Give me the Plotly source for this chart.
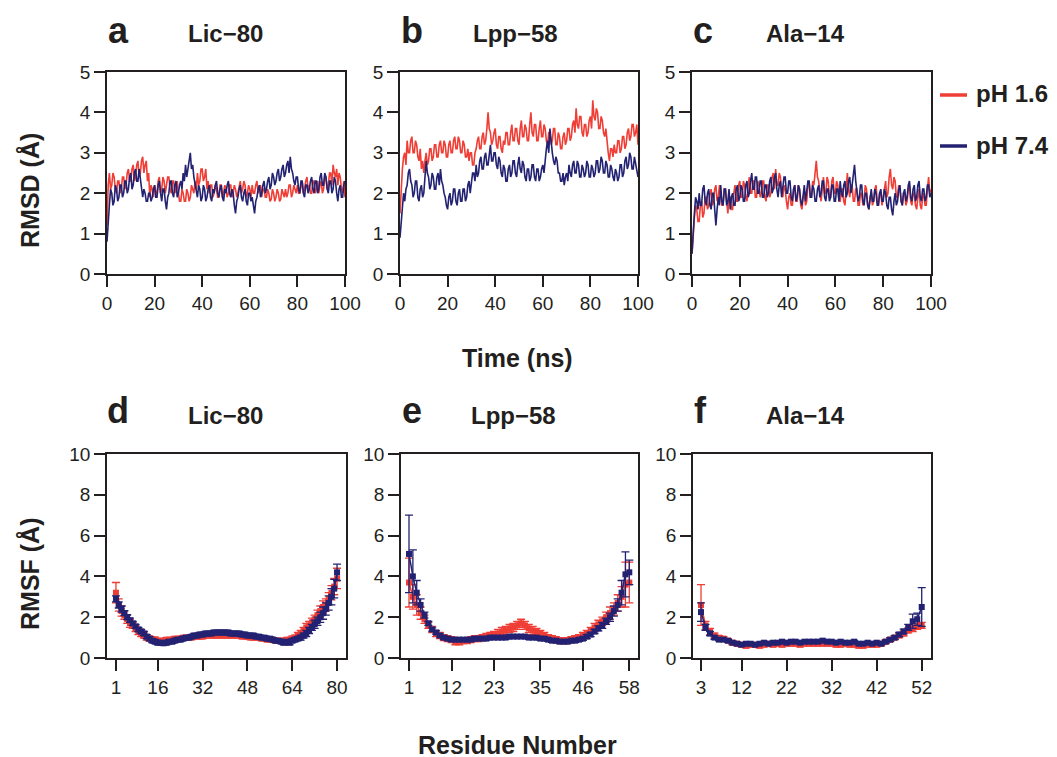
import plotly.graph_objects as go

# ---------------- DATA ----------------
time_ns = [i / 2 for i in range(201)]

rmsd_a_ph16 = [1.2,2.2, 2.5,2.1, 2.2,2.5, 2.4,2.1, 2.0,2.3, 2.3,2.0, 2.1,2.4, 2.4,2.1, 2.2,2.5, 2.6,2.3,
               2.3,2.6, 2.7,2.3, 2.4,2.7, 2.8,2.4, 2.5,2.8, 2.9,2.5, 2.7,2.8, 2.3,2.5, 1.9,2.2, 2.1,1.9,
               2.2,2.0, 2.0,2.3, 2.4,2.0, 2.1,2.4, 2.3,2.0, 2.2,2.4, 2.4,2.1, 2.0,2.3, 2.3,2.0, 2.1,2.3,
               2.0,1.8, 1.8,2.1, 2.0,1.8, 1.8,2.1, 2.0,1.8, 1.9,2.2, 2.1,2.0, 2.3,2.1, 2.5,2.2, 2.3,2.6,
               2.6,2.3, 2.4,2.6, 2.1,2.3, 2.0,2.2, 2.2,1.9, 2.0,2.2, 2.1,1.9, 1.9,2.2, 2.2,1.9, 2.0,2.2,
               2.1,1.9, 2.0,2.2, 2.2,1.9, 2.0,2.2, 2.1,1.9, 2.0,2.2, 2.3,2.0, 2.1,2.3, 2.2,1.9, 2.0,2.2,
               2.1,1.9, 2.2,2.0, 2.0,2.2, 2.3,2.0, 2.1,2.2, 1.9,2.1, 2.1,1.9, 1.9,2.1, 2.0,1.8, 1.85,2.1,
               2.0,1.8, 1.9,2.1, 2.0,1.8, 1.85,2.1, 2.0,1.9, 2.1,1.9, 2.0,2.2, 2.2,1.9, 2.0,2.2, 2.1,2.0,
               2.2,2.0, 2.0,2.2, 2.3,2.0, 2.1,2.3, 2.4,2.1, 2.2,2.0, 2.0,2.3, 2.3,2.0, 2.1,2.3, 2.0,2.2,
               2.3,2.0, 2.1,2.4, 2.4,2.1, 2.2,2.5, 2.5,2.2, 2.7,2.5, 2.4,2.6, 2.2,2.5, 2.4,2.1, 2.0,2.3,
               1.9]
rmsd_a_ph74 = [0.8,1.4, 1.7,2.1, 2.0,1.7, 1.8,2.2, 2.1,1.8, 1.9,2.2, 2.2,1.9, 2.0,2.3, 2.3,2.0, 2.1,2.4,
               2.5,2.1, 2.2,2.5, 2.6,2.3, 2.3,2.6, 2.4,2.1, 1.9,2.1, 2.0,1.8, 1.8,2.0, 2.0,1.8, 1.9,2.1,
               2.2,1.9, 1.9,2.2, 2.3,2.0, 1.8,2.1, 2.1,1.8, 1.6,1.9, 2.0,2.3, 2.3,2.0, 1.9,2.2, 2.3,1.9,
               2.0,2.2, 2.3,2.1, 2.5,2.3, 2.7,2.4, 2.6,2.8, 3.0,2.6, 2.7,2.4, 2.2,2.0, 1.9,2.2, 2.1,1.8,
               1.9,2.2, 2.1,1.8, 1.9,2.1, 2.2,1.9, 1.8,2.1, 2.0,2.2, 2.3,2.0, 1.9,2.1, 2.2,1.9, 1.8,2.1,
               2.0,2.2, 2.3,2.0, 1.9,2.1, 2.0,1.7, 1.5,1.8, 1.9,2.1, 2.2,1.9, 1.8,2.0, 2.1,1.8, 1.7,2.0,
               2.0,1.8, 1.9,1.7, 1.5,1.8, 1.9,2.1, 2.2,1.9, 2.0,2.2, 2.3,2.0, 2.1,2.3, 2.4,2.1, 2.2,2.5,
               2.4,2.2, 2.3,2.5, 2.6,2.3, 2.4,2.6, 2.7,2.4, 2.5,2.7, 2.8,2.5, 2.9,2.6, 2.5,2.3, 2.2,2.4,
               2.4,2.1, 2.0,2.3, 2.3,2.0, 1.9,2.2, 2.2,2.0, 2.1,2.3, 2.4,2.1, 2.0,2.3, 2.3,2.0, 2.1,2.4,
               2.5,2.2, 2.2,2.5, 2.4,2.1, 2.0,2.3, 2.3,2.0, 2.1,2.4, 2.3,2.0, 1.8,2.1, 2.2,1.9, 1.9,2.2,
               2.3]

rmsd_b_ph16 = [1.5,2.2, 2.6,2.9, 3.0,2.7, 3.3,3.0, 3.0,3.3, 3.4,3.0, 3.0,3.3, 3.2,2.9, 2.8,3.1, 2.6,2.8,
               2.5,2.8, 3.0,2.7, 2.8,3.1, 3.1,2.8, 2.9,3.2, 3.2,2.9, 2.9,3.2, 3.3,3.0, 3.0,3.3, 3.2,2.9,
               2.9,3.2, 3.3,3.0, 3.0,3.3, 3.4,3.1, 3.1,3.4, 3.3,3.0, 3.0,3.3, 3.2,2.9, 2.9,3.1, 2.8,3.0,
               3.0,2.7, 2.7,3.0, 3.1,3.3, 3.4,3.1, 3.1,3.4, 3.5,3.2, 3.3,3.6, 4.0,3.6, 3.5,3.2, 3.3,3.5,
               3.6,3.2, 3.1,3.4, 3.4,3.1, 3.0,3.3, 3.2,3.5, 3.5,3.2, 3.2,3.5, 3.7,3.3, 3.3,3.6, 3.6,3.3,
               3.2,3.6, 3.8,3.4, 3.4,3.7, 3.6,3.3, 3.3,3.7, 4.0,3.5, 3.4,3.7, 3.7,3.3, 3.3,3.6, 3.8,3.4,
               3.4,3.7, 3.6,3.3, 3.2,3.5, 3.5,3.2, 3.3,3.6, 3.6,3.2, 3.2,3.5, 3.4,3.1, 3.1,3.4, 3.5,3.2,
               3.3,3.6, 3.6,3.3, 3.4,3.7, 3.8,3.5, 4.1,3.7, 3.6,3.9, 3.9,3.5, 3.4,3.7, 3.7,3.4, 3.5,3.8,
               3.9,3.6, 4.3,3.9, 3.8,4.1, 4.0,3.6, 3.6,3.9, 3.8,3.5, 3.4,3.6, 3.2,3.0, 2.8,3.1, 3.1,2.9,
               3.2,3.0, 3.0,3.3, 3.3,3.0, 3.1,3.4, 3.4,3.1, 3.2,3.5, 3.6,3.3, 3.4,3.7, 3.7,3.4, 3.5,3.7,
               3.2]
rmsd_b_ph74 = [0.9,1.3, 1.6,2.0, 1.8,2.1, 2.2,2.5, 2.6,2.3, 2.2,1.9, 2.0,2.3, 2.3,1.9, 1.8,2.1, 2.2,1.9,
               2.0,2.4, 2.8,2.5, 2.4,2.1, 2.2,2.5, 2.4,2.1, 2.1,2.4, 2.5,2.2, 2.6,2.3, 2.2,2.0, 1.9,1.7,
               1.6,1.9, 2.0,1.7, 1.8,2.1, 2.1,1.8, 1.7,2.0, 2.1,1.8, 1.8,2.1, 2.1,1.8, 1.9,2.2, 2.3,2.0,
               2.2,2.5, 2.5,2.3, 2.7,2.4, 2.5,2.8, 2.9,2.6, 2.6,2.9, 3.0,2.7, 2.7,3.0, 3.2,2.8, 2.8,3.0,
               3.0,2.7, 2.6,2.9, 2.8,2.5, 2.4,2.7, 2.6,2.3, 2.3,2.6, 2.7,2.4, 2.5,2.8, 2.8,2.5, 2.4,2.7,
               2.9,2.6, 2.5,2.8, 2.7,2.4, 2.3,2.6, 2.6,2.3, 2.4,2.7, 2.7,2.4, 2.3,2.6, 2.6,2.3, 2.4,2.6,
               2.7,2.5, 2.9,3.1, 3.3,3.0, 3.6,3.2, 3.0,2.8, 2.7,2.9, 2.8,2.5, 2.5,2.3, 2.3,2.5, 2.2,2.4,
               2.5,2.3, 2.7,2.5, 2.4,2.7, 2.8,2.5, 2.5,2.8, 2.7,2.4, 2.4,2.7, 2.6,2.4, 2.5,2.8, 2.7,2.4,
               2.4,2.7, 2.6,2.4, 2.5,2.8, 2.8,2.5, 2.6,2.9, 2.8,2.5, 2.5,2.8, 2.7,2.4, 2.4,2.7, 2.6,2.4,
               2.3,2.6, 2.5,2.3, 2.4,2.7, 2.7,2.4, 2.5,2.8, 2.9,2.6, 2.7,3.0, 2.9,2.6, 2.6,2.9, 2.7,2.5,
               2.4]

rmsd_c_ph16 = [0.5,1.1, 1.4,1.7, 1.6,1.3, 1.3,1.7, 1.8,1.4, 1.5,1.9, 1.9,1.6, 1.7,2.0, 2.1,1.7, 1.8,2.1,
               2.2,1.8, 1.9,2.2, 2.0,1.7, 1.7,2.1, 2.1,1.7, 1.5,1.9, 1.9,1.6, 1.6,2.0, 2.2,1.8, 1.8,2.2,
               2.3,1.9, 1.9,2.3, 2.2,1.9, 1.8,2.2, 2.4,2.0, 2.0,2.3, 2.3,1.9, 1.9,2.3, 2.2,1.9, 2.0,2.3,
               2.3,1.9, 1.8,2.2, 2.2,1.9, 2.0,2.4, 2.5,2.1, 2.6,2.2, 2.2,2.5, 2.4,2.0, 1.9,2.2, 2.1,1.8,
               1.6,1.9, 2.0,1.7, 1.7,2.1, 2.2,1.8, 1.8,2.2, 2.1,1.7, 1.6,1.9, 2.0,1.7, 1.8,2.2, 2.3,1.9,
               1.9,2.3, 2.2,2.5, 2.8,2.4, 2.3,2.0, 1.8,2.1, 2.4,2.0, 2.0,2.4, 2.3,1.9, 1.9,2.3, 2.4,2.0,
               2.0,2.3, 2.2,1.8, 1.8,2.1, 2.1,1.8, 1.7,2.1, 2.5,2.1, 1.9,2.2, 2.2,1.8, 1.8,2.1, 2.1,1.7,
               1.7,2.0, 2.0,1.7, 1.8,2.2, 2.1,1.7, 1.6,1.9, 2.0,1.7, 1.8,2.1, 2.2,1.8, 1.7,2.0, 2.0,1.7,
               1.9,2.2, 2.3,1.9, 2.0,2.4, 2.6,2.2, 2.1,2.4, 2.3,1.9, 1.9,2.2, 2.1,1.8, 1.7,2.0, 2.0,1.7,
               1.8,2.1, 2.2,1.8, 1.7,2.0, 2.0,1.7, 1.6,1.9, 2.1,1.7, 1.6,1.9, 2.0,1.7, 1.7,2.1, 2.4,2.0,
               2.1]
rmsd_c_ph74 = [0.5,1.2, 1.5,1.9, 1.8,1.6, 2.0,1.7, 1.7,2.1, 2.2,1.8, 1.7,2.0, 2.1,1.7, 1.6,2.0, 2.0,1.6,
               1.2,1.6, 1.9,1.7, 2.2,1.8, 1.7,2.1, 2.1,1.7, 1.8,2.1, 1.6,1.9, 2.0,1.7, 1.7,2.1, 2.2,1.8,
               1.9,2.2, 2.1,1.8, 1.8,2.2, 2.3,1.9, 2.0,2.3, 2.5,2.1, 2.1,2.4, 2.4,2.0, 2.0,2.3, 2.3,1.9,
               1.9,2.2, 2.2,1.9, 2.0,2.3, 2.4,2.0, 2.1,2.4, 2.5,2.1, 1.9,2.2, 2.3,1.9, 2.1,2.4, 2.4,2.0,
               2.0,2.3, 2.3,1.9, 1.8,2.1, 2.2,1.8, 1.9,2.2, 2.1,1.8, 1.7,2.0, 2.2,1.8, 2.0,2.3, 2.3,1.9,
               1.9,2.2, 2.1,1.8, 1.8,2.1, 2.2,1.9, 2.0,2.3, 2.3,1.9, 1.8,2.1, 2.1,1.8, 1.9,2.2, 2.2,1.8,
               1.8,2.1, 2.1,1.8, 2.3,2.0, 1.9,2.2, 2.3,1.9, 2.0,2.3, 2.4,2.0, 2.2,2.5, 2.7,2.3, 2.1,1.8,
               1.9,2.2, 2.2,1.8, 1.7,2.0, 2.0,1.7, 1.6,1.9, 2.1,1.8, 1.8,2.1, 2.0,1.7, 1.7,2.0, 2.1,1.8,
               1.8,2.1, 2.0,1.7, 1.6,1.9, 1.9,1.6, 1.45,1.8, 2.0,1.7, 1.8,2.1, 2.2,1.8, 1.7,2.0, 2.1,1.8,
               1.9,2.2, 2.3,1.9, 1.8,2.1, 2.2,1.8, 1.9,2.2, 2.3,1.9, 1.8,2.1, 2.1,1.8, 1.9,2.2, 2.2,1.9,
               2.0]

# RMSF, Lic-80 (residues 1..80)
res_d = list(range(1, 81))
rmsf_d_ph16 = [3.2,2.6,2.3,2.1,1.9,1.7,1.6,1.45,1.3,1.2,1.1,1.0,0.95,0.9,0.9,0.85,0.85,0.85,0.9,0.9,
               0.9,0.95,0.95,0.95,1.0,1.0,1.0,1.0,1.05,1.05,1.05,1.05,1.1,1.1,1.1,1.1,1.1,1.1,1.1,1.1,
               1.1,1.1,1.1,1.1,1.1,1.05,1.05,1.05,1.0,1.0,1.0,1.0,0.95,0.95,0.9,0.9,0.9,0.85,0.85,0.85,
               0.85,0.9,0.9,0.95,1.0,1.1,1.2,1.35,1.5,1.6,1.75,1.9,2.1,2.3,2.5,2.6,2.9,3.2,3.5,3.9]
err_d_ph16 = [0.5,0.3,0.25,0.2,0.2,0.2,0.15,0.15,0.15,0.15,0.12,0.12,0.12,0.12,0.12,0.1,0.1,0.1,0.1,0.1,
              0.1,0.1,0.1,0.1,0.1,0.1,0.1,0.1,0.1,0.1,0.1,0.1,0.1,0.1,0.1,0.1,0.1,0.1,0.1,0.1,
              0.1,0.1,0.1,0.1,0.1,0.1,0.1,0.1,0.1,0.1,0.1,0.1,0.1,0.1,0.1,0.1,0.1,0.1,0.1,0.1,
              0.1,0.1,0.1,0.12,0.12,0.15,0.15,0.15,0.2,0.2,0.2,0.2,0.25,0.25,0.3,0.3,0.3,0.35,0.4,0.5]
rmsf_d_ph74 = [2.9,2.6,2.4,2.2,2.0,1.85,1.7,1.55,1.4,1.3,1.2,1.05,0.95,0.85,0.8,0.75,0.75,0.72,0.75,0.8,
               0.8,0.85,0.9,0.9,0.95,1.0,1.0,1.05,1.1,1.1,1.15,1.15,1.2,1.2,1.2,1.25,1.25,1.25,1.25,1.25,
               1.25,1.2,1.2,1.2,1.2,1.15,1.15,1.1,1.1,1.1,1.05,1.05,1.0,1.0,0.95,0.95,0.9,0.85,0.85,0.8,
               0.75,0.8,0.75,0.85,0.9,0.95,1.0,1.1,1.2,1.35,1.5,1.65,1.8,2.0,2.2,2.4,2.7,3.0,3.4,4.2]
err_d_ph74 = [0.15,0.15,0.15,0.12,0.12,0.1,0.1,0.1,0.1,0.1,0.1,0.1,0.1,0.1,0.1,0.1,0.1,0.1,0.1,0.1,
              0.1,0.1,0.1,0.1,0.1,0.1,0.1,0.1,0.1,0.1,0.1,0.1,0.1,0.1,0.1,0.1,0.1,0.1,0.1,0.1,
              0.1,0.1,0.1,0.1,0.1,0.1,0.1,0.1,0.1,0.1,0.1,0.1,0.1,0.1,0.1,0.1,0.1,0.1,0.1,0.1,
              0.1,0.1,0.1,0.1,0.1,0.1,0.12,0.12,0.15,0.15,0.15,0.2,0.2,0.25,0.3,0.3,0.35,0.4,0.45,0.4]

# RMSF, Lpp-58 (residues 1..58)
res_e = list(range(1, 59))
rmsf_e_ph16 = [3.7,3.0,2.6,2.2,1.9,1.6,1.4,1.2,1.1,1.0,0.95,0.9,0.8,0.8,0.85,0.85,0.9,0.95,0.95,1.0,
               1.05,1.1,1.15,1.2,1.3,1.35,1.45,1.5,1.6,1.7,1.6,1.45,1.35,1.3,1.2,1.1,1.0,0.95,0.9,0.85,
               0.85,0.85,0.9,0.95,1.0,1.1,1.2,1.35,1.5,1.65,1.8,2.0,2.2,2.4,2.7,3.0,3.6,3.7]
err_e_ph16 = [1.2,0.6,0.5,0.3,0.2,0.15,0.15,0.15,0.15,0.15,0.15,0.15,0.15,0.15,0.15,0.15,0.15,0.15,0.15,0.15,
              0.15,0.15,0.15,0.2,0.2,0.2,0.2,0.2,0.2,0.2,0.2,0.2,0.2,0.15,0.15,0.15,0.15,0.15,0.15,0.15,
              0.15,0.15,0.15,0.15,0.15,0.15,0.15,0.15,0.2,0.2,0.2,0.25,0.3,0.3,0.4,0.5,1.1,1.0]
rmsf_e_ph74 = [5.1,4.0,3.2,2.6,2.1,1.7,1.4,1.25,1.1,1.0,0.95,0.9,0.9,0.9,0.9,0.9,0.9,0.95,0.95,0.95,
               0.95,1.0,1.0,1.0,1.0,1.0,1.05,1.05,1.05,1.05,1.05,1.0,1.0,1.0,0.95,0.95,0.9,0.85,0.85,0.8,
               0.8,0.8,0.85,0.85,0.9,0.95,1.05,1.15,1.3,1.45,1.6,1.8,2.0,2.3,2.6,3.2,4.1,4.2]
err_e_ph74 = [1.9,1.3,0.6,0.3,0.15,0.1,0.08,0.08,0.08,0.08,0.08,0.08,0.08,0.08,0.08,0.08,0.08,0.08,0.08,0.08,
              0.08,0.08,0.08,0.08,0.08,0.08,0.08,0.08,0.08,0.08,0.08,0.08,0.08,0.08,0.08,0.08,0.08,0.08,0.08,0.08,
              0.08,0.08,0.08,0.08,0.08,0.08,0.1,0.1,0.1,0.12,0.15,0.15,0.2,0.25,0.3,0.6,1.1,0.6]

# RMSF, Ala-14 (residues 3..52)
res_f = list(range(3, 53))
rmsf_f_ph16 = [2.6,1.6,1.3,1.1,1.0,0.95,0.85,0.75,0.7,0.65,0.6,0.65,0.65,0.6,0.65,0.7,0.65,0.7,0.65,0.7,
               0.7,0.7,0.65,0.7,0.7,0.7,0.7,0.7,0.7,0.7,0.65,0.65,0.7,0.65,0.65,0.6,0.6,0.65,0.65,0.65,
               0.7,0.8,0.9,1.0,1.1,1.2,1.35,1.45,1.55,1.6]
err_f_ph16 = [1.0,0.2,0.15,0.12,0.1,0.1,0.1,0.1,0.1,0.1,0.1,0.1,0.1,0.1,0.1,0.1,0.1,0.1,0.1,0.1,
              0.1,0.1,0.1,0.1,0.1,0.1,0.1,0.1,0.1,0.1,0.1,0.1,0.1,0.1,0.1,0.1,0.1,0.1,0.1,0.1,
              0.1,0.1,0.1,0.1,0.1,0.12,0.12,0.15,0.15,0.15]
rmsf_f_ph74 = [2.25,1.5,1.2,1.0,0.9,0.9,0.85,0.75,0.7,0.65,0.7,0.7,0.65,0.7,0.75,0.7,0.75,0.75,0.8,0.75,
               0.8,0.8,0.75,0.8,0.8,0.8,0.8,0.85,0.8,0.8,0.75,0.8,0.75,0.75,0.8,0.7,0.7,0.75,0.7,0.75,
               0.7,0.8,0.9,1.0,1.15,1.3,1.5,1.8,1.9,2.5]
err_f_ph74 = [0.45,0.15,0.1,0.08,0.06,0.06,0.06,0.06,0.06,0.06,0.06,0.06,0.06,0.06,0.06,0.06,0.06,0.06,0.06,0.06,
              0.06,0.06,0.06,0.06,0.06,0.06,0.06,0.06,0.06,0.06,0.06,0.06,0.06,0.06,0.06,0.06,0.06,0.06,0.06,0.06,
              0.06,0.06,0.08,0.08,0.1,0.12,0.15,0.35,0.3,0.95]

ticks_d = [1, 16, 32, 48, 64, 80]
ticks_e = [1, 12, 23, 35, 46, 58]
ticks_f = [3, 12, 22, 32, 42, 52]

panel_letters = ["a", "b", "c", "d", "e", "f"]
panel_names = ["Lic−80", "Lpp−58", "Ala−14", "Lic−80", "Lpp−58", "Ala−14"]
series_names = ["pH 1.6", "pH 7.4"]

# ---------------- STYLE ----------------
RED = "#ef3e36"
BLUE = "#232272"
INK = "#231f20"
FONT = "Arial, 'Liberation Sans', Helvetica, sans-serif"
W, H = 1057, 757
OFF = 8  # page body margin offset in the browser

def px_x(p):
    return (p - OFF) / W

def px_y(p):
    return 1 - (p - OFF) / H

fig = go.Figure()

top_dom_y = [px_y(274), px_y(72)]
bot_dom_y = [px_y(658), px_y(454)]
top_dom_x = [[px_x(107), px_x(345)], [px_x(400), px_x(638)], [px_x(692), px_x(931)]]
bot_dom_x = [[px_x(107), px_x(346)], [px_x(401), px_x(638)], [px_x(693), px_x(931)]]

rmsd_sets = [(rmsd_a_ph16, rmsd_a_ph74), (rmsd_b_ph16, rmsd_b_ph74), (rmsd_c_ph16, rmsd_c_ph74)]
rmsf_sets = [
    (res_d, rmsf_d_ph16, err_d_ph16, rmsf_d_ph74, err_d_ph74, ticks_d, [-2.2, 83.2]),
    (res_e, rmsf_e_ph16, err_e_ph16, rmsf_e_ph74, err_e_ph74, ticks_e, [-1.07, 60.25]),
    (res_f, rmsf_f_ph16, err_f_ph16, rmsf_f_ph74, err_f_ph74, ticks_f, [1.22, 54.06]),
]

axis_common = dict(showline=True, mirror=True, linecolor=INK, linewidth=1.5,
                   ticks="outside", ticklen=11, tickwidth=1.5, tickcolor=INK,
                   showgrid=False, zeroline=False, automargin=False,
                   tickfont=dict(family=FONT, size=19, color=INK))

layout = {}
for i, (r16, r74) in enumerate(rmsd_sets):
    n = i + 1
    xa = "x" if n == 1 else f"x{n}"
    ya = "y" if n == 1 else f"y{n}"
    fig.add_trace(go.Scatter(x=time_ns, y=r16, mode="lines", line=dict(color=RED, width=1.6),
                             xaxis=xa, yaxis=ya, showlegend=False, name=series_names[0]))
    fig.add_trace(go.Scatter(x=time_ns, y=r74, mode="lines", line=dict(color=BLUE, width=1.6),
                             xaxis=xa, yaxis=ya, showlegend=False, name=series_names[1]))
    layout[f"xaxis{n if n > 1 else ''}"] = dict(domain=top_dom_x[i], anchor=ya, range=[0, 100],
                                              tickvals=[0, 20, 40, 60, 80, 100], **axis_common)
    layout[f"yaxis{n if n > 1 else ''}"] = dict(domain=top_dom_y, anchor=xa, range=[0, 5],
                                              tickvals=[0, 1, 2, 3, 4, 5], **axis_common)

for i, (res, v16, e16, v74, e74, tks, xr) in enumerate(rmsf_sets):
    n = i + 4
    xa, ya = f"x{n}", f"y{n}"
    fig.add_trace(go.Scatter(x=res, y=v16, mode="lines+markers",
                             line=dict(color=RED, width=1.5),
                             marker=dict(color=RED, size=6, symbol="square"),
                             error_y=dict(type="data", array=e16, color=RED, thickness=1.3, width=4),
                             xaxis=xa, yaxis=ya, showlegend=False, name=series_names[0]))
    fig.add_trace(go.Scatter(x=res, y=v74, mode="lines+markers",
                             line=dict(color=BLUE, width=1.5),
                             marker=dict(color=BLUE, size=6, symbol="square"),
                             error_y=dict(type="data", array=e74, color=BLUE, thickness=1.3, width=4),
                             xaxis=xa, yaxis=ya, showlegend=False, name=series_names[1]))
    layout[f"xaxis{n}"] = dict(domain=bot_dom_x[i], anchor=ya, range=xr, tickvals=tks, **axis_common)
    layout[f"yaxis{n}"] = dict(domain=bot_dom_y, anchor=xa, range=[0, 10],
                               tickvals=[0, 2, 4, 6, 8, 10], **axis_common)

annotations = []
letter_pos = [(118, 30), (412, 30), (703, 30), (118, 410), (412, 410), (700, 410)]
name_pos = [(225, 34), (515, 34), (805, 34), (225, 415), (513, 415), (805, 415)]
for (lx, ly), (nx, ny), let, nm in zip(letter_pos, name_pos, panel_letters, panel_names):
    annotations.append(dict(x=px_x(lx), y=px_y(ly), xref="paper", yref="paper", text=f"<b>{let}</b>",
                            showarrow=False, xanchor="center", yanchor="middle",
                            font=dict(family=FONT, size=36, color=INK)))
    annotations.append(dict(x=px_x(nx), y=px_y(ny), xref="paper", yref="paper", text=f"<b>{nm}</b>",
                            showarrow=False, xanchor="center", yanchor="middle",
                            font=dict(family=FONT, size=24, color=INK)))

axis_titles = [("RMSD (Å)", 30, 191, -90), ("Time (ns)", 517, 358, 0),
               ("RMSF (Å)", 30, 574, -90), ("Residue Number", 517, 745, 0)]
for txt, x, y, ang in axis_titles:
    annotations.append(dict(x=px_x(x), y=px_y(y), xref="paper", yref="paper", text=f"<b>{txt}</b>",
                            showarrow=False, xanchor="center", yanchor="middle", textangle=ang,
                            font=dict(family=FONT, size=25, color=INK)))

# legend (manual)
shapes = []
for (name, col, yy) in [(series_names[0], RED, 95), (series_names[1], BLUE, 146)]:
    shapes.append(dict(type="line", xref="paper", yref="paper", x0=px_x(940), x1=px_x(967),
                       y0=px_y(yy), y1=px_y(yy), line=dict(color=col, width=3.5)))
    annotations.append(dict(x=px_x(974), y=px_y(yy - 1), xref="paper", yref="paper",
                            text=f"<b>{name}</b>", showarrow=False, xanchor="left", yanchor="middle",
                            font=dict(family=FONT, size=24, color=INK)))

fig.update_layout(width=W, height=H, margin=dict(l=0, r=0, t=0, b=0, autoexpand=False),
                  paper_bgcolor="white", plot_bgcolor="white",
                  annotations=annotations, shapes=shapes, **layout)

fig.write_html("out.html")
